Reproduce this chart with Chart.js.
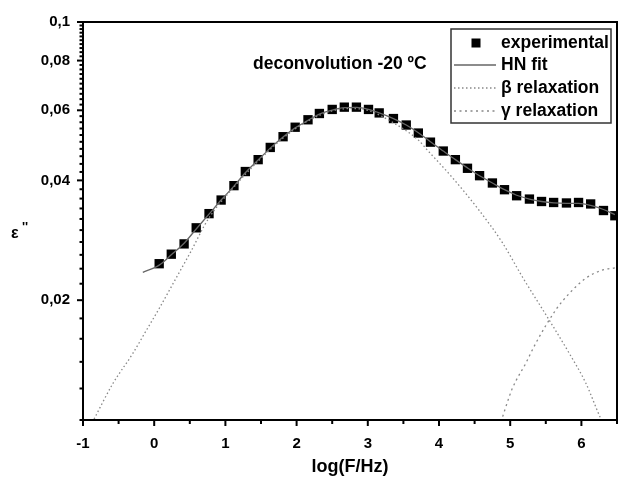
<!DOCTYPE html>
<html>
<head>
<meta charset="utf-8">
<script src="https://cdn.jsdelivr.net/npm/chart.js@4.4.0/dist/chart.umd.min.js"></script>
<style>
  html, body { margin: 0; padding: 0; background: #fff; }
</style>
</head>
<body>
<canvas id="chart1" width="618" height="478"></canvas>
<script>
// experimental points
const expX = [0.07, 0.24, 0.42, 0.59, 0.77, 0.94, 1.12, 1.28, 1.46, 1.63, 1.81, 1.98, 2.16, 2.32, 2.50, 2.67, 2.84, 3.01, 3.16,
  3.36, 3.54, 3.71, 3.88, 4.06, 4.23, 4.40, 4.57, 4.75, 4.92, 5.09, 5.27, 5.44, 5.61, 5.79, 5.96, 6.13, 6.31, 6.47];
const expY = [0.0247, 0.0261, 0.0277, 0.0304, 0.0330, 0.0357, 0.0388, 0.0421, 0.0451, 0.0484, 0.0515, 0.0544, 0.0568, 0.0589, 0.0603, 0.0611, 0.0611, 0.0603, 0.0591,
  0.0572, 0.0551, 0.0526, 0.0499, 0.0474, 0.0451, 0.0429, 0.0411, 0.0394, 0.0379, 0.0366, 0.0359, 0.0354, 0.0352, 0.0351, 0.0352, 0.0349, 0.0336, 0.0326];

// HN fit
const hnX = [-0.16, 0.07, 0.24, 0.42, 0.59, 0.77, 0.94, 1.12, 1.28, 1.46, 1.63, 1.81, 1.98, 2.16, 2.32, 2.50, 2.67, 2.84, 3.01, 3.16,
  3.36, 3.54, 3.71, 3.88, 4.06, 4.23, 4.40, 4.57, 4.75, 4.92, 5.09, 5.27, 5.44, 5.61, 5.79, 5.96, 6.13, 6.31, 6.47];
const hnY = [0.0235, 0.0245, 0.0260, 0.0278, 0.0302, 0.0329, 0.0357, 0.0387, 0.0418, 0.0450, 0.0482, 0.0514, 0.0542, 0.0566, 0.0587, 0.0601, 0.0609, 0.0610, 0.0603, 0.0591,
  0.0572, 0.0551, 0.0527, 0.0500, 0.0474, 0.0451, 0.0430, 0.0411, 0.0394, 0.0379, 0.0367, 0.0359, 0.0354, 0.0351, 0.0350, 0.0350, 0.0346, 0.0338, 0.0328];

// beta relaxation
const betaX = [-0.87, -0.58, -0.30, -0.11, 0.08, 0.30, 0.50, 0.76, 1.12, 1.46, 1.81, 2.16, 2.50, 2.78, 3.01, 3.36, 3.71, 3.83, 4.18, 4.56, 4.89, 5.17, 5.55, 5.83, 6.06, 6.27, 6.32];
const betaY = [0.00985, 0.01235, 0.0147, 0.0168, 0.0192, 0.0226, 0.0262, 0.0320, 0.0385, 0.0447, 0.0511, 0.0564, 0.0598, 0.0606, 0.0599, 0.0558, 0.0505, 0.0478, 0.0408, 0.0337, 0.0279, 0.0229, 0.0178, 0.0147, 0.0124, 0.0101, 0.0097];

// gamma relaxation
const gammaX = [4.87, 5.03, 5.22, 5.36, 5.64, 5.83, 6.06, 6.29, 6.47];
const gammaY = [0.0099, 0.0120, 0.0139, 0.0156, 0.0189, 0.0208, 0.0227, 0.0238, 0.0241];

const xTickValues = [-1, 0, 1, 2, 3, 4, 5, 6];
const xTickLabels = ['-1', '0', '1', '2', '3', '4', '5', '6'];
const yTickValues = [0.02, 0.04, 0.06, 0.08, 0.1];
const yTickLabels = ['0,02', '0,04', '0,06', '0,08', '0,1'];
const legendLabels = ['experimental', 'HN fit', 'β relaxation', 'γ relaxation'];
const noteText = 'deconvolution -20 ºC';
const xTitle = 'log(F/Hz)';

const pairs = (xs, ys) => xs.map((x, i) => ({x: x, y: ys[i]}));

const betaDash = [1.5, 2.5];
const gammaDash = [2, 3.5];
const fontFam = '"Liberation Sans", Arial, sans-serif';

const decor = {
  id: 'decor',
  afterDraw(chart) {
    const c = chart.ctx;
    const a = chart.chartArea;
    const xs = chart.scales.x, ys = chart.scales.y;
    c.save();
    // frame
    c.strokeStyle = '#000';
    c.lineWidth = 2;
    c.strokeRect(a.left, a.top, a.right - a.left, a.bottom - a.top);
    // tick marks
    xs.ticks.forEach(t => {
      const px = xs.getPixelForValue(t.value);
      const len = Number.isInteger(t.value) ? 6 : 4;
      c.beginPath(); c.moveTo(px, a.bottom); c.lineTo(px, a.bottom + len); c.stroke();
    });
    ys.ticks.forEach(t => {
      const py = ys.getPixelForValue(t.value);
      const major = yTickValues.some(v => Math.abs(v - t.value) < 1e-9);
      const len = major ? 6 : 3.5;
      c.beginPath(); c.moveTo(a.left, py); c.lineTo(a.left - len, py); c.stroke();
    });
    // note text
    c.fillStyle = '#000';
    c.font = 'bold 17.5px ' + fontFam;
    c.textBaseline = 'middle';
    c.textAlign = 'left';
    c.fillText(noteText, 253, 64);
    // y title
    c.font = 'bold 16px ' + fontFam;
    c.fillText('ε', 11, 234);
    c.font = 'bold 13px ' + fontFam;
    c.fillText('\'\'', 22, 227);
    // legend
    const bx = 451, by = 29, bw = 160, bh = 94;
    c.fillStyle = '#fff';
    c.fillRect(bx, by, bw, bh);
    c.strokeStyle = '#333';
    c.lineWidth = 1.5;
    c.strokeRect(bx, by, bw, bh);
    const rows = [43, 65, 88, 111];
    c.fillStyle = '#000';
    c.fillRect(476 - 4.5, rows[0] - 4.5, 9, 9);
    const sample = (y, color, dash, w) => {
      c.strokeStyle = color; c.lineWidth = w; c.setLineDash(dash);
      c.beginPath(); c.moveTo(454, y); c.lineTo(496, y); c.stroke();
      c.setLineDash([]);
    };
    sample(rows[1], '#666', [], 1.5);
    sample(rows[2], '#888', betaDash, 1.3);
    sample(rows[3], '#888', gammaDash, 1.3);
    c.fillStyle = '#000';
    c.font = 'bold 17.5px ' + fontFam;
    legendLabels.forEach((t, i) => c.fillText(t, 501, rows[i]));
    c.restore();
  }
};

const ctx = document.getElementById('chart1');

const chart1 = new Chart(ctx, {
  type: 'scatter',
  data: {
    datasets: [{
      label: legendLabels[2],
      data: pairs(betaX, betaY),
      showLine: true,
      borderColor: '#888',
      borderWidth: 1.3,
      borderDash: betaDash,
      pointRadius: 0,
      cubicInterpolationMode: 'monotone',
    }, {
      label: legendLabels[3],
      data: pairs(gammaX, gammaY),
      showLine: true,
      borderColor: '#888',
      borderWidth: 1.3,
      borderDash: gammaDash,
      pointRadius: 0,
      cubicInterpolationMode: 'monotone',
    }, {
      label: legendLabels[1],
      data: pairs(hnX, hnY),
      showLine: true,
      borderColor: '#666',
      borderWidth: 1.3,
      pointRadius: 0,
      cubicInterpolationMode: 'monotone',
    }, {
      label: legendLabels[0],
      data: pairs(expX, expY),
      showLine: false,
      pointStyle: 'rect',
      pointRadius: 6.6,
      pointBackgroundColor: '#000',
      pointBorderColor: '#000',
      pointBorderWidth: 0,
    }]
  },
  options: {
    responsive: false,
    animation: false,
    events: [],
    layout: {autoPadding: false, padding: {top: 22, right: 1, left: 0, bottom: 0}},
    plugins: {
      legend: {display: false},
      tooltip: {enabled: false},
    },
    scales: {
      x: {
        type: 'linear',
        min: -1,
        max: 6.5,
        afterBuildTicks: s => {
          const t = [];
          for (let i = 0; i <= 15; i++) t.push({value: -1 + i * 0.5});
          s.ticks = t;
        },
        afterFit: s => { s.height = 58; s.paddingRight = 0; s.paddingLeft = 0; },
        ticks: {
          autoSkip: false,
          maxRotation: 0,
          color: '#000',
          padding: 15,
          font: {family: fontFam, size: 15, weight: 'bold'},
          callback: v => {
            const k = xTickValues.indexOf(v);
            return k >= 0 ? xTickLabels[k] : '';
          }
        },
        grid: {display: false, drawTicks: false},
        border: {display: true, color: '#000', width: 2},
        title: {
          display: true,
          text: xTitle,
          color: '#000',
          padding: {top: 4, bottom: 0},
          font: {family: fontFam, size: 18, weight: 'bold'},
        }
      },
      y: {
        type: 'logarithmic',
        min: 0.01,
        max: 0.1,
        afterBuildTicks: s => {
          const t = [];
          for (let i = 0; i <= 45; i++) t.push({value: Math.round((0.01 + i * 0.002) * 1000) / 1000});
          s.ticks = t;
        },
        afterFit: s => { s.width = 83; },
        ticks: {
          autoSkip: false,
          color: '#000',
          padding: 13,
          font: {family: fontFam, size: 15, weight: 'bold'},
          callback: v => {
            const k = yTickValues.findIndex(q => Math.abs(q - v) < 1e-9);
            return k >= 0 ? yTickLabels[k] : '';
          }
        },
        grid: {display: false, drawTicks: false},
        border: {display: true, color: '#000', width: 2},
      }
    }
  },
  plugins: [decor]
});
</script>
</body>
</html>
